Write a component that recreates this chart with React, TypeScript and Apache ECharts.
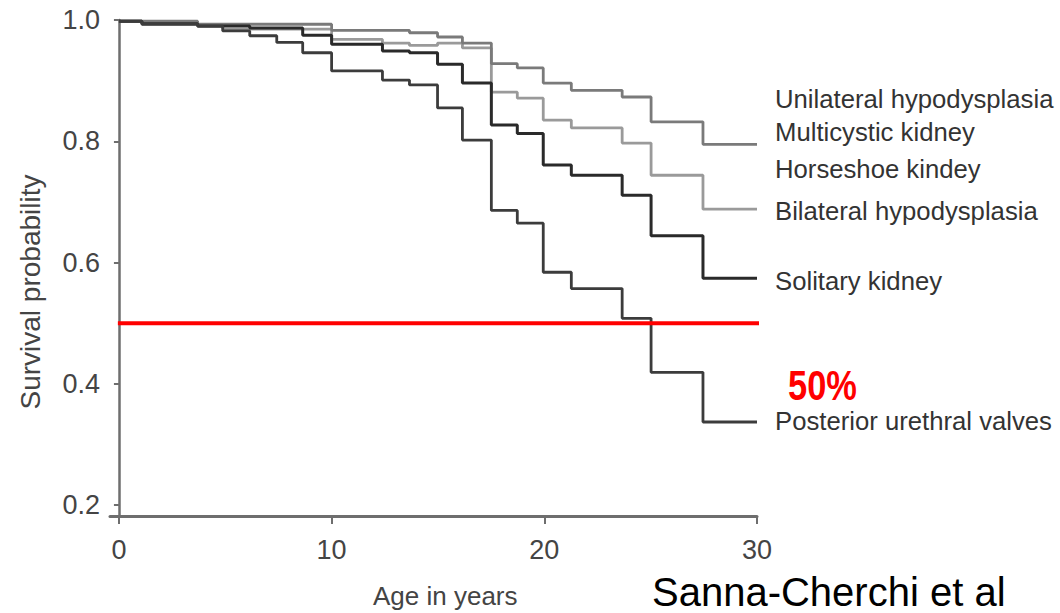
import React, { useEffect, useRef } from "react";
import * as echarts from "echarts";

// Kaplan-Meier survival curves: [age in years, survival probability]
const unilateralHypodysplasia: [number, number][] = [
  [0, 0.998], [3.7, 0.993], [10, 0.983], [13.66, 0.979], [14.98, 0.972],
  [16.15, 0.962], [17.51, 0.928], [18.73, 0.921], [19.95, 0.896],
  [21.27, 0.884], [23.66, 0.873], [25.02, 0.832], [27.46, 0.795], [30, 0.795],
];
const bilateralHypodysplasia: [number, number][] = [
  [0, 0.998], [1.08, 0.995], [3.7, 0.99], [4.88, 0.985], [10, 0.968],
  [12.39, 0.962], [13.66, 0.958], [14.98, 0.962], [16.15, 0.954],
  [17.51, 0.881], [18.73, 0.871], [19.95, 0.835], [21.27, 0.822],
  [23.66, 0.797], [25.02, 0.744], [27.46, 0.688], [30, 0.688],
];
const solitaryKidney: [number, number][] = [
  [0, 0.998], [1.08, 0.994], [3.7, 0.99], [6.15, 0.987], [8.64, 0.975],
  [10, 0.96], [12.39, 0.949], [13.66, 0.946], [14.98, 0.927], [16.15, 0.896],
  [17.51, 0.827], [18.73, 0.813], [19.95, 0.761], [21.27, 0.744],
  [23.66, 0.711], [25.02, 0.644], [27.46, 0.574], [30, 0.574],
];
const posteriorUrethralValves: [number, number][] = [
  [0, 0.998], [1.08, 0.993], [3.7, 0.99], [4.88, 0.982], [6.15, 0.974],
  [7.42, 0.963], [8.64, 0.946], [10, 0.916], [12.39, 0.901], [13.66, 0.893],
  [14.98, 0.855], [16.15, 0.802], [17.51, 0.686], [18.73, 0.665],
  [19.95, 0.584], [21.27, 0.557], [23.66, 0.508], [25.02, 0.419],
  [27.46, 0.337], [30, 0.337],
];
const fiftyPercentLine: [number, number][] = [[-0.05, 0.5], [30.47, 0.5]];

const xTicks = [0, 10, 20, 30];
const yTicks = [0.2, 0.4, 0.6, 0.8, 1.0];
const groupLabels = [
  "Unilateral hypodysplasia",
  "Multicystic kidney",
  "Horseshoe kindey",
  "Bilateral hypodysplasia",
  "Solitary kidney",
  "Posterior urethral valves",
];
const labelCenters = [100, 133, 170, 212, 282, 422];

export default function App() {
  const ref = useRef<HTMLDivElement>(null);
  useEffect(() => {
    if (!ref.current) return;
    const chart = echarts.init(ref.current, null, { renderer: "svg" });
    const stepSeries = (name: string, data: [number, number][], color: string, width: number, z: number) => ({
      name,
      type: "line",
      step: "end",
      data,
      symbol: "none",
      z,
      lineStyle: { color, width },
    });
    chart.setOption({
      animation: false,
      backgroundColor: "#ffffff",
      grid: { left: 110, top: 20, width: 647, height: 496 },
      xAxis: {
        type: "value",
        min: -0.42,
        max: 30,
        splitLine: { show: false },
        axisLine: { lineStyle: { color: "#6e6e6e", width: 3 } },
        axisTick: { customValues: xTicks, length: 8, lineStyle: { color: "#6e6e6e", width: 2 } },
        axisLabel: {
          customValues: xTicks,
          margin: 20,
          color: "#444",
          fontFamily: "Liberation Sans",
          fontSize: 27,
        },
      },
      yAxis: {
        type: "value",
        min: 0.182,
        max: 1.0,
        splitLine: { show: false },
        axisLine: { lineStyle: { color: "#6e6e6e", width: 2.5 } },
        axisTick: { customValues: yTicks, length: 5, lineStyle: { color: "#6e6e6e", width: 2 } },
        axisLabel: {
          customValues: yTicks,
          margin: 10,
          color: "#444",
          fontFamily: "Liberation Sans",
          fontSize: 27,
          formatter: (v: number) => v.toFixed(1),
        },
      },
      series: [
        stepSeries("Unilateral hypodysplasia", unilateralHypodysplasia, "#7a7a7a", 2.8, 3),
        stepSeries("Bilateral hypodysplasia", bilateralHypodysplasia, "#9a9a9a", 2.8, 2),
        stepSeries("Solitary kidney", solitaryKidney, "#2a2a2a", 3, 4),
        stepSeries("Posterior urethral valves", posteriorUrethralValves, "#3c3c3c", 2.8, 5),
        {
          name: "50%",
          type: "line",
          data: fiftyPercentLine,
          symbol: "none",
          clip: false,
          z: 10,
          lineStyle: { color: "#ff0000", width: 4 },
        },
      ],
      graphic: [
        ...groupLabels.map((t, i) => ({
          type: "text",
          left: 775,
          top: labelCenters[i] - 14,
          style: {
            text: t,
            fill: "#333",
            font: "25.7px 'Liberation Sans', Arial, sans-serif",
          },
        })),
        {
          type: "text",
          x: 788,
          y: 364,
          scaleX: 0.82,
          style: {
            text: "50%",
            fill: "#ff0000",
            font: "bold 42px 'Liberation Sans', sans-serif",
          },
        },
        {
          type: "text",
          left: 373,
          top: 583,
          style: {
            text: "Age in years",
            fill: "#444",
            font: "26px 'Liberation Sans', Arial, sans-serif",
          },
        },
        {
          type: "text",
          x: 30,
          y: 292,
          rotation: Math.PI / 2,
          style: {
            text: "Survival probability",
            fill: "#444",
            align: "center",
            verticalAlign: "middle",
            font: "28px 'Liberation Sans', Arial, sans-serif",
          },
        },
        {
          type: "text",
          left: 652,
          top: 572,
          style: {
            text: "Sanna-Cherchi et al",
            fill: "#000",
            font: "40px 'Liberation Sans', sans-serif",
          },
        },
      ],
    });
    return () => chart.dispose();
  }, []);
  return (
    <div
      ref={ref}
      style={{ position: "fixed", left: 0, top: 0, width: 1060, height: 613, background: "#fff" }}
    />
  );
}
